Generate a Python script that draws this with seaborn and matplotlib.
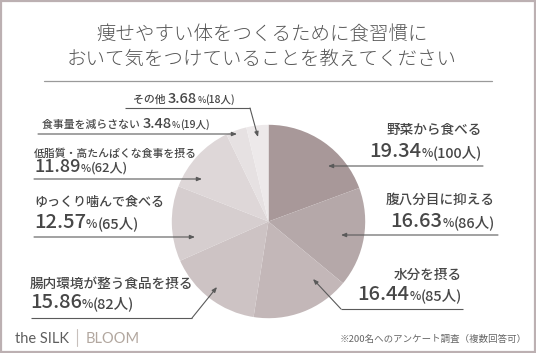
import matplotlib
matplotlib.use('Agg')
import matplotlib.pyplot as plt
import seaborn as sns

# データ
labels = ['野菜から食べる', '腹八分目に抑える', '水分を摂る', '腸内環境が整う食品を摂る',
          'ゆっくり噛んで食べる', '低脂質・高たんぱくな食事を摂る', '食事量を減らさない', 'その他']
shares = [19.34, 16.63, 16.44, 15.86, 12.57, 11.89, 3.48, 3.68]
counts = [100, 86, 85, 82, 65, 62, 19, 18]
colors = ['#a89899', '#b5a8a9', '#c3b7b8', '#cdc3c4', '#d6cecf', '#ded7d8', '#e6e1e2', '#ede9ea']

title = '痩せやすい体をつくるために食習慣に\nおいて気をつけていることを教えてください'
note = '※200名へのアンケート調査（複数回答可）'

sns.set_theme(style='white')
plt.rcParams['font.family'] = ['Noto Sans CJK JP', 'DejaVu Sans']

W, H = 536, 353
fig = plt.figure(figsize=(W / 100, H / 100), dpi=100)
fig.patch.set_facecolor('white')

# 円グラフ（ピクセル座標で中心と半径）
cx, cy, r = 268.5, 221.5, 96.7
ax = fig.add_axes([(cx - r) / W, (H - cy - r) / H, 2 * r / W, 2 * r / H])
ax.pie(shares, colors=colors, startangle=90, counterclock=False,
       wedgeprops=dict(linewidth=0))
ax.set_xlim(-1, 1)
ax.set_ylim(-1, 1)
ax.axis('off')

# 注釈用のオーバーレイ
ov = fig.add_axes([0, 0, 1, 1])
ov.set_xlim(0, W)
ov.set_ylim(H, 0)
ov.axis('off')
ov.patch.set_visible(False)
renderer = fig.canvas.get_renderer()

txt_color = '#474747'
line_color = '#5a5a5a'


def pieces_at(x, y, pieces, ha='left'):
    objs = []
    for s, size in pieces:
        t = ov.text(0, y, s, fontsize=size, va='baseline', ha='left',
                    color=txt_color, fontweight='medium')
        objs.append(t)
    widths = [t.get_window_extent(renderer).width for t in objs]
    pos = x if ha == 'left' else x - sum(widths)
    for t, w in zip(objs, widths):
        t.set_x(pos)
        pos += w


# レイアウト: (配置, x, 名前ベースライン, 数値ベースライン, 名前サイズ, 数値サイズ, 線の経路)
layout = [
    ('right', 482, 134, 157, 9.8, 14.5, [(483, 166), (328, 166)]),
    ('right', 495, 204, 227, 9.8, 14.5, [(498, 235), (341, 235)]),
    ('right', 462, 279, 300, 9.8, 14.5, [(463, 309), (341, 309), (313, 279)]),
    ('left', 30, 288, 308, 9.8, 14.5, [(31, 318), (192, 318), (217, 287)]),
    ('left', 34, 206, 228, 9.4, 14.5, [(34, 237), (195, 237)]),
    ('left', 34, 157, 172, 7.8, 13, [(34, 179), (202, 179)]),
    ('left', 42, 128, None, 7.8, 10.5, [(38, 134), (237, 134)]),
    ('left', 133, 103, None, 7.8, 10.5, [(125, 108), (250, 108), (258, 137)]),
]

for lab, sh, cnt, (ha, x, yn, yp, ns, nums, path) in zip(labels, shares, counts, layout):
    pct = [(f'{sh:.2f}', nums), ('%', nums * 0.6), (f'({cnt}人)', nums * 0.72)]
    if yp is None:
        pieces_at(x, yn, [(lab + ' ', ns)] + pct, ha)
    else:
        pieces_at(x, yn, [(lab, ns)], ha)
        pieces_at(x, yp, pct, ha)
    xs = [p[0] for p in path]
    ys = [p[1] for p in path]
    ov.plot(xs[:-1], ys[:-1], color=line_color, lw=0.8, solid_capstyle='butt')
    ov.annotate('', xy=path[-1], xytext=path[-2],
                arrowprops=dict(arrowstyle='-|>,head_length=0.5,head_width=0.2',
                                color=line_color, lw=0.8, shrinkA=0, shrinkB=0,
                                mutation_scale=6))

# タイトル
ov.text(262, 47, title, fontsize=14, ha='center', va='center', color='#555555',
        linespacing=1.25, fontweight='light')
ov.plot([44, 492], [81, 81], color='#9a9a9a', lw=0.9)

# フッター
ov.text(15, 339, 'the SILK', fontsize=10.5, family=['Lato', 'DejaVu Sans'],
        color='#5e5e5e', va='center', ha='left')
ov.plot([77, 77], [329, 346], color='#c8c0bc', lw=0.8)
ov.text(86, 339, 'BLOOM', fontsize=10.5, family=['Lato', 'DejaVu Sans'],
        color='#b2a79f', va='center', ha='left')
ov.text(527, 339, note, fontsize=6.8, color='#666666', va='center', ha='right')

# 枠線
ov.add_patch(plt.Rectangle((1, 1), W - 2, H - 2, fill=False, ec='#bcb0b2', lw=1.6))

fig.savefig('out.png', dpi=100, facecolor='white')
